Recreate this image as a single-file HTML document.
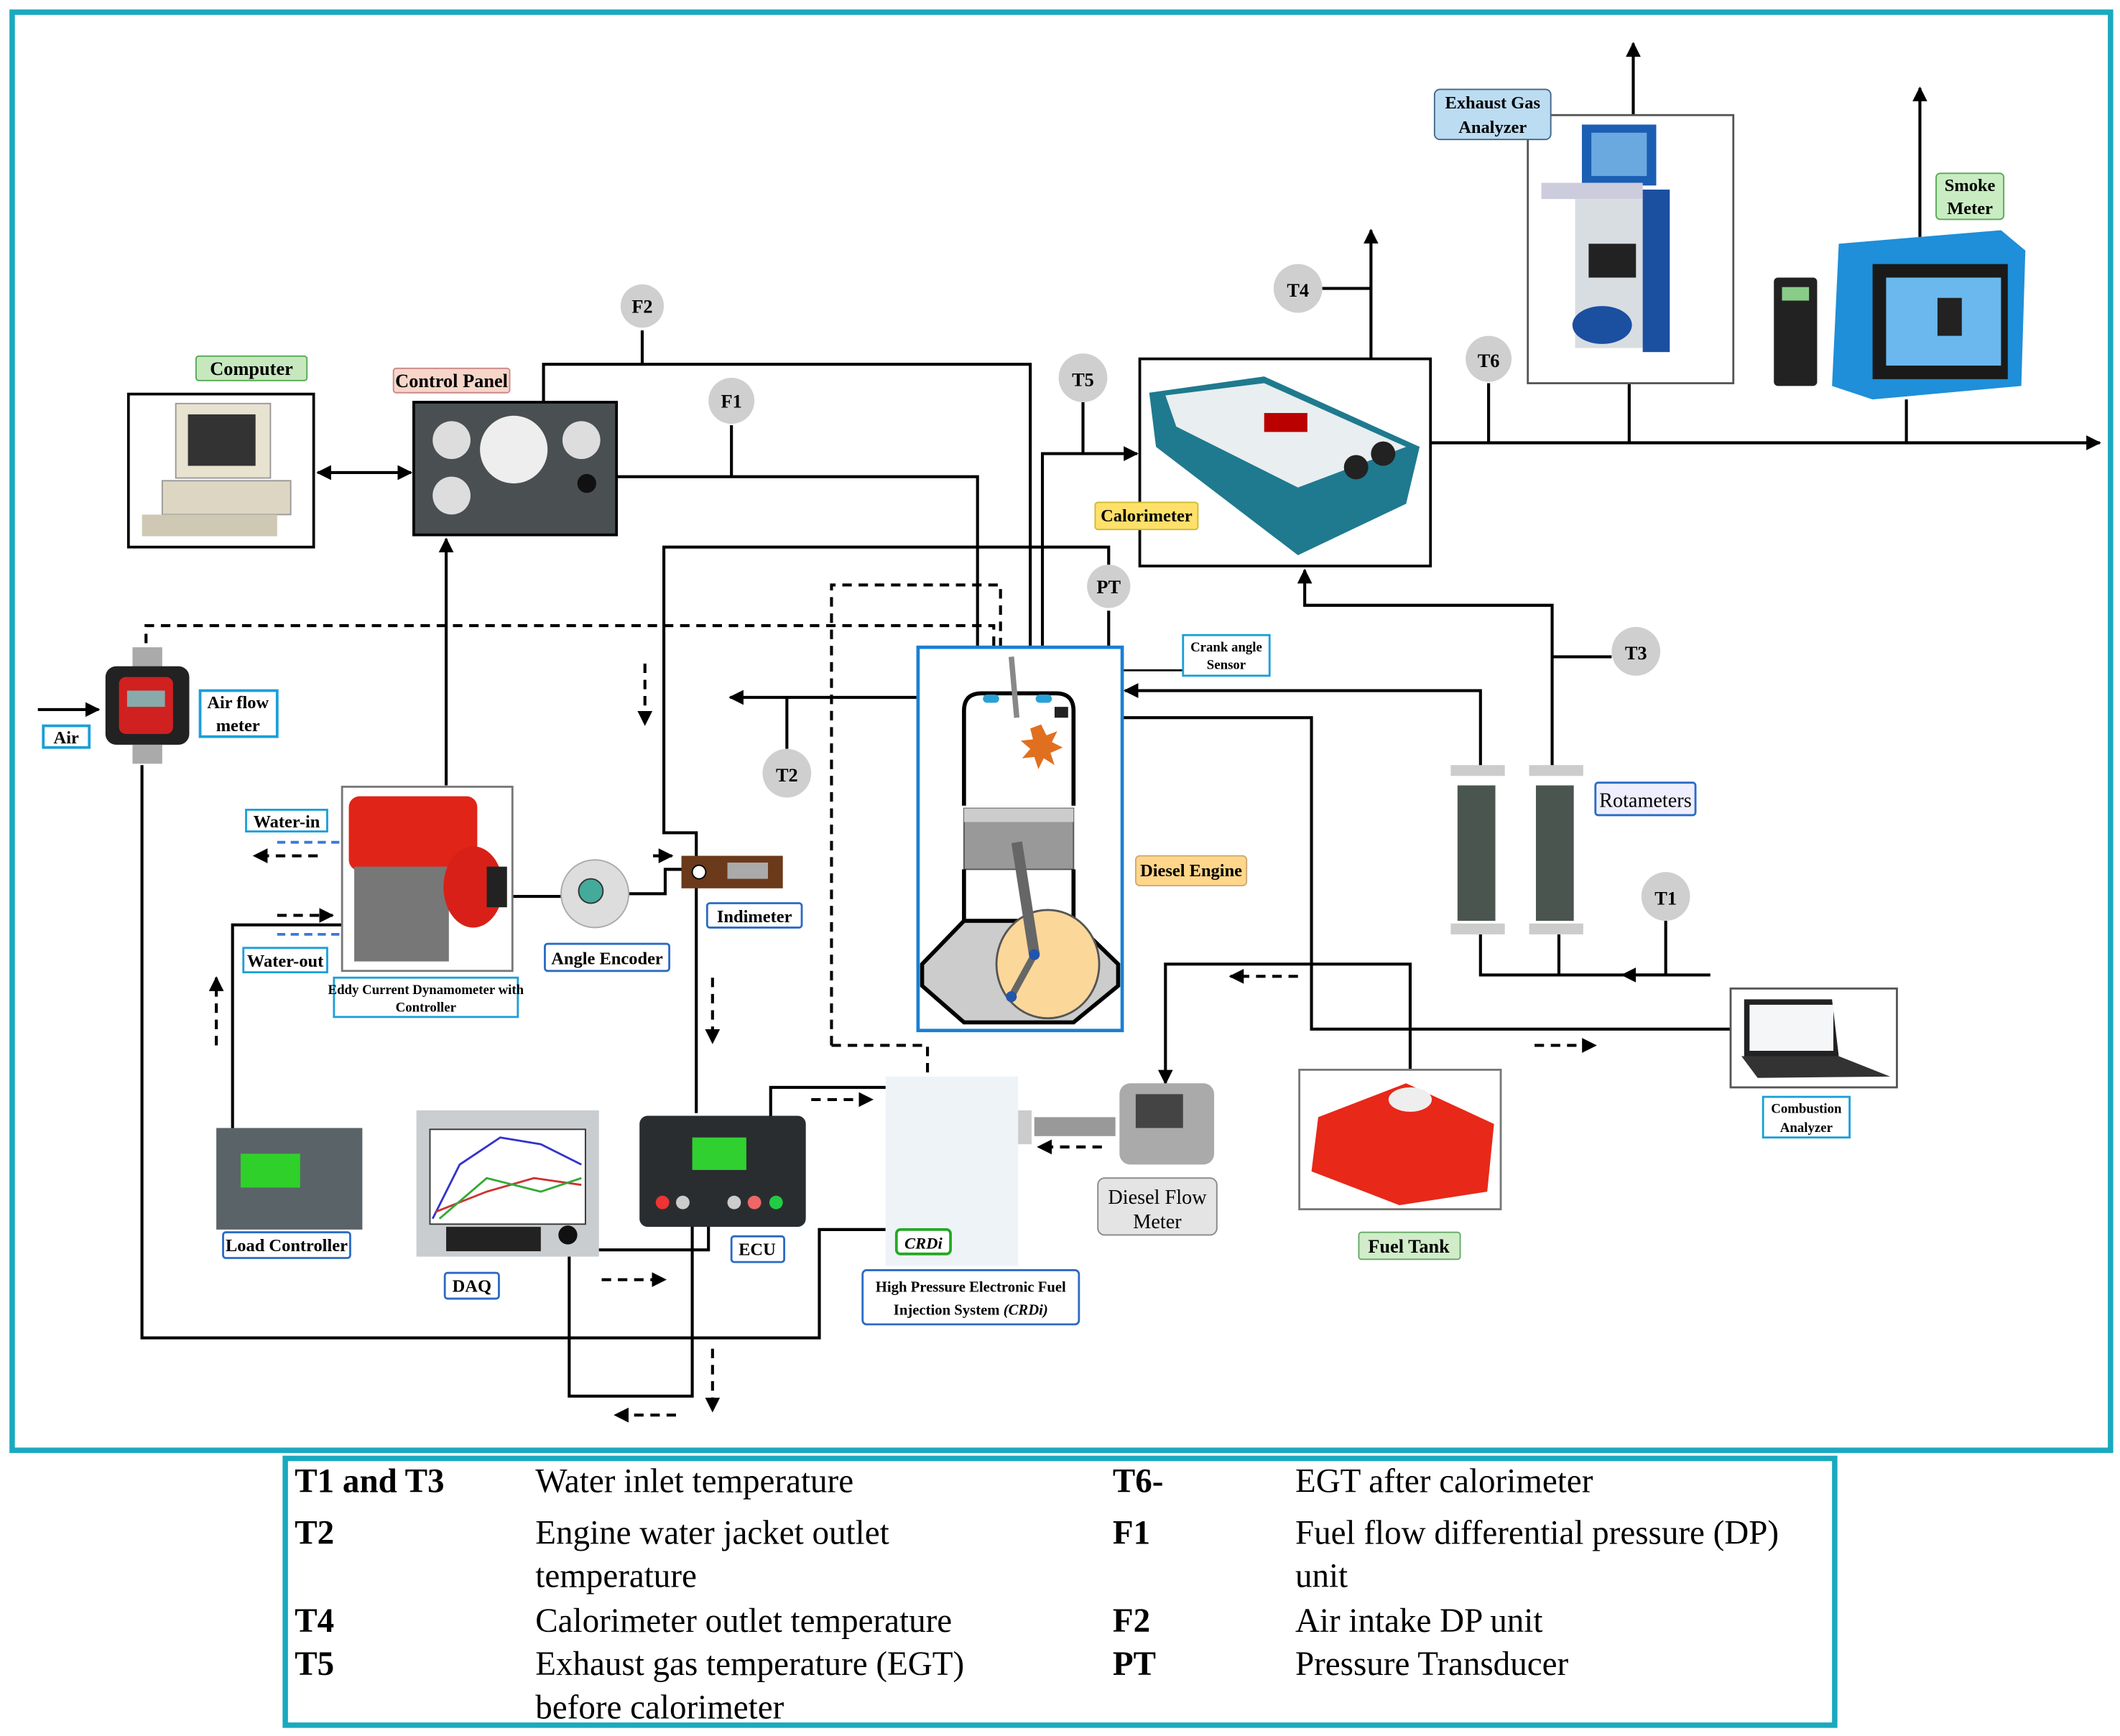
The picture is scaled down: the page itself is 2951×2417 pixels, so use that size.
<!DOCTYPE html>
<html><head><meta charset="utf-8"><style>
html,body{margin:0;padding:0;background:#fff}
svg{display:block}
text{font-family:"Liberation Serif",serif}
.b{font-weight:bold}
</style></head><body>
<svg width="2951" height="2417" viewBox="0 0 1568 1282" preserveAspectRatio="none" xmlns="http://www.w3.org/2000/svg">
<defs>
<marker id="a" viewBox="0 0 10 10" refX="9" refY="5" markerWidth="5" markerHeight="5" orient="auto-start-reverse"><path d="M0,0L10,5L0,10z" fill="#000"/></marker>
</defs>
<rect x="0" y="0" width="1568" height="1282" fill="#fff"/>
<rect x="9" y="9" width="1552" height="1062" fill="none" stroke="#1aa9bf" stroke-width="4"/>
<rect x="211" y="1077" width="1146" height="197" fill="none" stroke="#1aa9bf" stroke-width="4"/>

<g stroke="#000" stroke-width="2.2" fill="none">
<!-- computer-control panel -->
<line x1="235" y1="349" x2="304" y2="349" marker-start="url(#a)" marker-end="url(#a)"/>
<polyline points="402,297 402,269 762,269 762,508" marker-end="url(#a)"/>
<line x1="475" y1="244" x2="475" y2="269"/>
<polyline points="456,352 723,352 723,508" marker-end="url(#a)"/>
<line x1="541" y1="314" x2="541" y2="352"/>
<polyline points="771,510 771,335 841,335" marker-end="url(#a)"/>
<line x1="801" y1="297" x2="801" y2="335"/>
<polyline points="1014,265 1014,170" marker-end="url(#a)"/>
<line x1="978" y1="213" x2="1014" y2="213"/>
<polyline points="1058,327 1553,327" marker-end="url(#a)"/>
<line x1="1101" y1="283" x2="1101" y2="327"/>
<line x1="1205" y1="283" x2="1205" y2="327"/>
<polyline points="1208,85 1208,32" marker-end="url(#a)"/>
<line x1="1410" y1="295" x2="1410" y2="327"/>
<polyline points="1420,175 1420,65" marker-end="url(#a)"/>
<polyline points="1148,570 1148,447 965,447 965,421" marker-end="url(#a)"/>
<line x1="1148" y1="485" x2="1192" y2="485"/>
<line x1="820" y1="451" x2="820" y2="478"/>
<polyline points="820,420 820,404 491,404 491,615 515,615 515,642"/>
<polyline points="679,515 540,515" marker-end="url(#a)"/>
<line x1="582" y1="515" x2="582" y2="553"/>
<polyline points="1095,570 1095,510 832,510" marker-end="url(#a)"/>
<polyline points="875,495 786,495 786,520" stroke-width="1.5"/>
<polyline points="792,530 970,530 970,760 1280,760"/>
<polyline points="1043,800 1043,712 862,712 862,800" marker-end="url(#a)"/>
<polyline points="1095,690 1095,720 1265,720"/>
<line x1="1153" y1="690" x2="1153" y2="720"/>
<polyline points="1232,720 1200,720" marker-end="url(#a)"/>
<line x1="1232" y1="680" x2="1232" y2="720"/>
<polyline points="28,524 73,524" marker-end="url(#a)"/>
<polyline points="105,565 105,988 606,988 606,908 655,908"/>
<polyline points="330,580 330,398" marker-end="url(#a)"/>
<polyline points="172,840 172,683 300,683"/>
<polyline points="370,662 430,662" marker-end="url(#a)"/>
<polyline points="465,660 492,660 492,642 507,642"/>
<line x1="515" y1="654" x2="515" y2="822"/>
<polyline points="356,905 356,923 524,923 524,885"/>
<polyline points="421,905 421,1031 512,1031 512,899"/>
<polyline points="570,825 570,803 686,803 686,820"/>
</g>
<!-- dashed -->
<g stroke="#000" stroke-width="2.2" fill="none" stroke-dasharray="7,5">
<polyline points="108,475 108,462 735,462 735,508"/>
<polyline points="615,772 615,432 740,432 740,508"/>
<polyline points="615,772 686,772 686,815"/>
<polyline points="477,490 477,535" marker-end="url(#a)"/>
<polyline points="235,632 188,632" marker-end="url(#a)"/>
<polyline points="205,676 246,676" marker-end="url(#a)"/>
<polyline points="483,632 497,632" marker-end="url(#a)"/>
<polyline points="160,772 160,722" marker-end="url(#a)"/>
<polyline points="527,722 527,770" marker-end="url(#a)"/>
<polyline points="600,812 645,812" marker-end="url(#a)"/>
<polyline points="445,945 492,945" marker-end="url(#a)"/>
<polyline points="527,996 527,1042" marker-end="url(#a)"/>
<polyline points="500,1045 455,1045" marker-end="url(#a)"/>
<polyline points="960,721 910,721" marker-end="url(#a)"/>
<polyline points="1135,772 1180,772" marker-end="url(#a)"/>
<polyline points="815,847 768,847" marker-end="url(#a)"/>
</g>
<g stroke="#3a78d8" stroke-width="2" stroke-dasharray="6,4"><line x1="205" y1="622" x2="270" y2="622"/><line x1="205" y1="690" x2="270" y2="690"/></g>

<!-- Computer -->
<rect x="95" y="291" width="137" height="113" fill="#fff" stroke="#000" stroke-width="2"/>
<rect x="130" y="298" width="70" height="55" fill="#e8e2d0" stroke="#999"/><rect x="139" y="306" width="50" height="38" fill="#333"/>
<rect x="120" y="355" width="95" height="25" fill="#ddd6c2" stroke="#999"/><rect x="105" y="380" width="100" height="16" fill="#cfc8b5"/>
<!-- Control panel -->
<rect x="306" y="297" width="150" height="98" fill="#4a4f52" stroke="#000" stroke-width="2"/>
<circle cx="334" cy="325" r="14" fill="#ddd"/><circle cx="380" cy="332" r="25" fill="#eee"/><circle cx="430" cy="325" r="14" fill="#ddd"/><circle cx="334" cy="366" r="14" fill="#ddd"/><circle cx="434" cy="357" r="7" fill="#111"/>
<!-- calorimeter -->
<rect x="843" y="265" width="215" height="153" fill="#fff" stroke="#000" stroke-width="2"/>
<polygon points="850,290 935,278 1050,330 1040,372 960,410 855,330" fill="#1f7a8f"/>
<polygon points="862,292 935,283 1040,330 960,360 870,315" fill="#e9eef0"/>
<rect x="935" y="305" width="32" height="14" fill="#b00"/><circle cx="1003" cy="345" r="9" fill="#222"/><circle cx="1023" cy="335" r="9" fill="#222"/>
<!-- exhaust analyzer -->
<rect x="1130" y="85" width="152" height="198" fill="#fff" stroke="#555" stroke-width="1.5"/>
<rect x="1170" y="92" width="55" height="45" fill="#1a5fb4"/><rect x="1177" y="98" width="41" height="32" fill="#6aa8e0"/>
<rect x="1140" y="135" width="75" height="12" fill="#ccd"/><rect x="1165" y="147" width="60" height="110" fill="#d8dde2"/><rect x="1215" y="140" width="20" height="120" fill="#1b4fa0"/>
<rect x="1175" y="180" width="35" height="25" fill="#222"/><ellipse cx="1185" cy="240" rx="22" ry="14" fill="#1b4fa0"/>
<!-- smoke meter -->
<rect x="1312" y="205" width="32" height="80" rx="3" fill="#222"/><rect x="1318" y="212" width="20" height="10" fill="#8c8"/>
<polygon points="1360,180 1480,170 1498,185 1495,285 1385,295 1355,285" fill="#1e8fd8"/>
<rect x="1385" y="195" width="100" height="85" fill="#1a1a1a"/><rect x="1395" y="205" width="85" height="65" fill="#6ab8ee"/><rect x="1433" y="220" width="18" height="28" fill="#222"/>
<!-- air flow meter -->
<rect x="98" y="478" width="22" height="18" fill="#aaa"/><rect x="78" y="492" width="62" height="58" rx="8" fill="#222"/><rect x="88" y="500" width="40" height="42" rx="5" fill="#d02020"/><rect x="94" y="510" width="28" height="12" fill="#8aa"/><rect x="98" y="550" width="22" height="14" fill="#aaa"/>
<!-- eddy -->
<rect x="253" y="581" width="126" height="136" fill="#fff" stroke="#777" stroke-width="1.5"/>
<rect x="258" y="588" width="95" height="55" rx="8" fill="#e02418"/><rect x="262" y="640" width="70" height="70" fill="#777"/><ellipse cx="350" cy="655" rx="22" ry="30" fill="#d82018"/><rect x="360" y="640" width="15" height="30" fill="#222"/>
<!-- angle encoder -->
<circle cx="440" cy="660" r="25" fill="#ddd" stroke="#aaa"/><circle cx="437" cy="658" r="9" fill="#4a9" stroke="#333"/>
<!-- indimeter -->
<rect x="504" y="632" width="75" height="24" fill="#6a3a1a"/><rect x="538" y="637" width="30" height="12" fill="#aaa"/><circle cx="517" cy="644" r="5" fill="#fff" stroke="#000"/>
<!-- load controller -->
<rect x="160" y="833" width="108" height="75" fill="#5a6468"/><rect x="178" y="852" width="44" height="25" fill="#2fd02a"/>
<!-- DAQ -->
<rect x="308" y="820" width="135" height="108" fill="#c9cdd0"/><rect x="318" y="834" width="115" height="70" fill="#fff" stroke="#333"/>
<polyline points="320,900 340,860 370,840 400,845 430,860" fill="none" stroke="#33c" stroke-width="1.5"/><polyline points="322,895 360,880 395,870 430,875" fill="none" stroke="#c33" stroke-width="1.5"/><polyline points="325,900 360,870 400,880 430,870" fill="none" stroke="#3a3" stroke-width="1.5"/>
<rect x="330" y="906" width="70" height="18" fill="#222"/><circle cx="420" cy="912" r="7" fill="#111"/>
<!-- ECU -->
<rect x="473" y="824" width="123" height="82" rx="6" fill="#2a2d30"/><rect x="512" y="840" width="40" height="24" fill="#30d030"/>
<circle cx="490" cy="888" r="5" fill="#e33"/><circle cx="505" cy="888" r="5" fill="#ccc"/><circle cx="543" cy="888" r="5" fill="#ccc"/><circle cx="558" cy="888" r="5" fill="#e66"/><circle cx="574" cy="888" r="5" fill="#2c4"/>
<!-- CRDi -->
<rect x="655" y="795" width="98" height="140" fill="#eef3f8"/><rect x="753" y="820" width="10" height="25" fill="#ccc"/>
<rect x="663" y="908" width="40" height="18" rx="3" fill="#fff" stroke="#2a2" stroke-width="2"/><text x="683" y="922" text-anchor="middle" font-size="12" class="b" font-style="italic">CRDi</text>
<!-- flow meter -->
<rect x="765" y="825" width="60" height="14" fill="#999"/><rect x="828" y="800" width="70" height="60" rx="8" fill="#aaa"/><rect x="840" y="808" width="35" height="25" fill="#444"/>
<!-- fuel tank -->
<rect x="961" y="790" width="149" height="103" fill="#fff" stroke="#777" stroke-width="1.5"/>
<polygon points="975,825 1040,800 1105,830 1100,880 1035,890 970,865" fill="#e82818"/><ellipse cx="1043" cy="812" rx="16" ry="9" fill="#eee"/>
<!-- rotameters -->
<rect x="1073" y="565" width="40" height="8" fill="#ccc"/><rect x="1078" y="580" width="28" height="100" fill="#4a5550"/><rect x="1073" y="682" width="40" height="8" fill="#ccc"/>
<rect x="1131" y="565" width="40" height="8" fill="#ccc"/><rect x="1136" y="580" width="28" height="100" fill="#4a5550"/><rect x="1131" y="682" width="40" height="8" fill="#ccc"/>
<!-- combustion analyzer -->
<rect x="1280" y="730" width="123" height="73" fill="#fff" stroke="#555" stroke-width="1.5"/>
<polygon points="1290,738 1355,738 1360,780 1290,780" fill="#222"/><rect x="1294" y="742" width="62" height="34" fill="#f4f6f8"/><polygon points="1288,780 1360,780 1398,795 1300,796" fill="#333"/>
<!-- Engine -->
<rect x="679" y="478" width="151" height="283" fill="#fff" stroke="#1a7fd4" stroke-width="2.5"/>
<path d="M713,595 L713,525 Q713,512 726,512 L781,512 Q794,512 794,525 L794,595" fill="#fff" stroke="#000" stroke-width="3"/>
<rect x="713" y="597" width="81" height="45" fill="#999" stroke="#555"/><rect x="713" y="597" width="81" height="10" fill="#ccc"/>
<line x1="713" y1="642" x2="713" y2="680" stroke="#000" stroke-width="3"/><line x1="794" y1="642" x2="794" y2="680" stroke="#000" stroke-width="3"/>
<polygon points="713,680 794,680 827,712 827,728 794,755 713,755 682,728 682,712" fill="#ccc" stroke="#000" stroke-width="3"/>
<ellipse cx="775" cy="712" rx="38" ry="40" fill="#fcd79a" stroke="#555" stroke-width="1.5"/>
<line x1="752" y1="622" x2="765" y2="705" stroke="#666" stroke-width="8"/><line x1="765" y1="705" x2="748" y2="736" stroke="#666" stroke-width="5"/>
<circle cx="765" cy="705" r="4" fill="#25a"/><circle cx="748" cy="736" r="4" fill="#25a"/>
<rect x="727" y="513" width="12" height="6" rx="3" fill="#2aa0d8"/><rect x="766" y="513" width="12" height="6" rx="3" fill="#2aa0d8"/><rect x="780" y="522" width="10" height="8" fill="#222"/>
<line x1="748" y1="485" x2="752" y2="530" stroke="#888" stroke-width="4"/>
<polygon points="770,535 774,543 782,540 778,548 786,552 777,556 780,565 772,560 768,568 765,559 756,560 762,553 755,547 764,546 762,538" fill="#e07020"/>

<!-- circle labels -->
<g font-size="14" class="b" text-anchor="middle">
<circle cx="475" cy="226" r="16" fill="#cfcfcf"/><text x="475" y="231" class="b">F2</text>
<circle cx="541" cy="296" r="17" fill="#cfcfcf"/><text x="541" y="301" class="b">F1</text>
<circle cx="801" cy="279" r="18" fill="#cfcfcf"/><text x="801" y="285" class="b">T5</text>
<circle cx="960" cy="213" r="18" fill="#cfcfcf"/><text x="960" y="219" class="b">T4</text>
<circle cx="1101" cy="265" r="17" fill="#cfcfcf"/><text x="1101" y="271" class="b">T6</text>
<circle cx="820" cy="433" r="16" fill="#cfcfcf"/><text x="820" y="438" class="b">PT</text>
<circle cx="582" cy="571" r="18" fill="#cfcfcf"/><text x="582" y="577" class="b">T2</text>
<circle cx="1210" cy="481" r="18" fill="#cfcfcf"/><text x="1210" y="487" class="b">T3</text>
<circle cx="1232" cy="662" r="18" fill="#cfcfcf"/><text x="1232" y="668" class="b">T1</text>
</g>

<!-- box labels -->
<g font-size="13" class="b" text-anchor="middle">
<rect x="145" y="263" width="82" height="18" rx="2" fill="#c7e8bf" stroke="#5a5"/><text x="186" y="277" class="b" font-size="14">Computer</text>
<rect x="291" y="272" width="86" height="18" rx="2" fill="#f7d6c9" stroke="#c88"/><text x="334" y="286" class="b" font-size="14">Control Panel</text>
<rect x="1061" y="66" width="86" height="37" rx="4" fill="#bcdcf2" stroke="#468"/><text x="1104" y="80" class="b" font-size="13">Exhaust Gas</text><text x="1104" y="98" class="b" font-size="13">Analyzer</text>
<rect x="1432" y="128" width="50" height="34" rx="3" fill="#c9ecc2" stroke="#5a5"/><text x="1457" y="141" class="b" font-size="13">Smoke</text><text x="1457" y="158" class="b" font-size="13">Meter</text>
<rect x="810" y="371" width="76" height="20" rx="2" fill="#ffe06a" stroke="#cb3"/><text x="848" y="385" class="b">Calorimeter</text>
<rect x="875" y="469" width="64" height="30" fill="#fff" stroke="#1a9fd8" stroke-width="1.5"/><text x="907" y="481" font-size="10" class="b" font-weight="normal">Crank angle</text><text x="907" y="494" font-size="10">Sensor</text>
<rect x="840" y="632" width="82" height="22" rx="3" fill="#ffd68a" stroke="#ca7"/><text x="881" y="647" class="b">Diesel Engine</text>
<rect x="1180" y="578" width="74" height="24" rx="2" fill="#eef" stroke="#2a6bc4" stroke-width="1.5"/><text x="1217" y="596" font-size="15" font-weight="normal">Rotameters</text>
<rect x="32" y="536" width="34" height="16" fill="#fff" stroke="#1a9fd8" stroke-width="2"/><text x="49" y="549" class="b">Air</text>
<rect x="148" y="510" width="57" height="34" fill="#fff" stroke="#1a9fd8" stroke-width="2"/><text x="176" y="523" class="b">Air flow</text><text x="176" y="540" class="b">meter</text>
<rect x="182" y="598" width="60" height="16" fill="#fff" stroke="#1a9fd8" stroke-width="1.5"/><text x="212" y="611" class="b">Water-in</text>
<rect x="180" y="700" width="62" height="18" fill="#fff" stroke="#1a9fd8" stroke-width="1.5"/><text x="211" y="714" class="b">Water-out</text>
<rect x="247" y="722" width="136" height="29" fill="#fff" stroke="#1a9fd8" stroke-width="1.5"/><text x="315" y="734" font-size="10" class="b">Eddy Current Dynamometer with</text><text x="315" y="747" font-size="10" class="b">Controller</text>
<rect x="403" y="697" width="92" height="20" rx="2" fill="#fff" stroke="#2a6bc4" stroke-width="1.5"/><text x="449" y="712" class="b">Angle Encoder</text>
<rect x="523" y="667" width="70" height="18" rx="2" fill="#fff" stroke="#2a6bc4" stroke-width="1.5"/><text x="558" y="681" class="b">Indimeter</text>
<rect x="165" y="910" width="94" height="19" rx="2" fill="#fff" stroke="#2a6bc4" stroke-width="1.5"/><text x="212" y="924" class="b">Load Controller</text>
<rect x="329" y="940" width="40" height="19" rx="2" fill="#fff" stroke="#2a6bc4" stroke-width="1.5"/><text x="349" y="954" class="b">DAQ</text>
<rect x="541" y="913" width="39" height="19" rx="2" fill="#fff" stroke="#2a6bc4" stroke-width="1.5"/><text x="560" y="927" class="b">ECU</text>
<rect x="638" y="938" width="160" height="40" rx="3" fill="#fff" stroke="#2a6bc4" stroke-width="1.5"/><text x="718" y="954" font-size="11" class="b">High Pressure Electronic Fuel</text><text x="718" y="971" font-size="11" class="b">Injection System <tspan font-style="italic">(CRDi)</tspan></text>
<rect x="812" y="870" width="88" height="42" rx="5" fill="#e4e4e4" stroke="#888"/><text x="856" y="889" font-size="15" font-weight="normal">Diesel Flow</text><text x="856" y="907" font-size="15" font-weight="normal">Meter</text>
<rect x="1005" y="910" width="75" height="20" rx="2" fill="#d0ecc8" stroke="#6a6"/><text x="1042" y="925" class="b" font-size="14">Fuel Tank</text>
<rect x="1304" y="810" width="64" height="30" fill="#fff" stroke="#1a9fd8" stroke-width="1.5"/><text x="1336" y="822" font-size="10" class="b">Combustion</text><text x="1336" y="836" font-size="10" class="b">Analyzer</text>
</g>

<!-- legend -->
<g font-size="25">
<text x="218" y="1102" class="b">T1 and T3</text><text x="396" y="1102">Water inlet temperature</text>
<text x="823" y="1102" class="b">T6-</text><text x="958" y="1102">EGT after calorimeter</text>
<text x="218" y="1140" class="b">T2</text><text x="396" y="1140">Engine water jacket outlet</text><text x="396" y="1172">temperature</text>
<text x="823" y="1140" class="b">F1</text><text x="958" y="1140">Fuel flow differential pressure (DP)</text><text x="958" y="1172">unit</text>
<text x="218" y="1205" class="b">T4</text><text x="396" y="1205">Calorimeter outlet temperature</text>
<text x="823" y="1205" class="b">F2</text><text x="958" y="1205">Air intake DP unit</text>
<text x="218" y="1237" class="b">T5</text><text x="396" y="1237">Exhaust gas temperature (EGT)</text><text x="396" y="1269">before calorimeter</text>
<text x="823" y="1237" class="b">PT</text><text x="958" y="1237">Pressure Transducer</text>
</g>
</svg>
</body></html>
